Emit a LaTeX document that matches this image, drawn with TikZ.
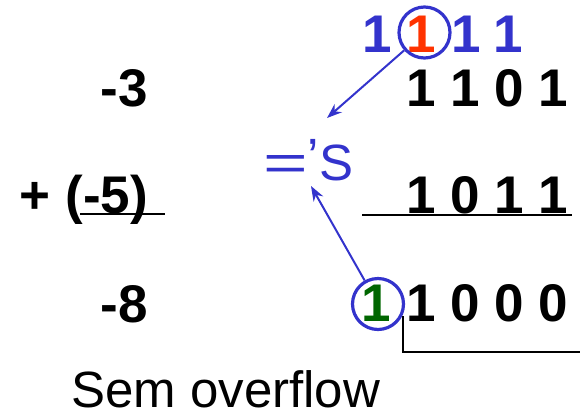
\documentclass[tikz,border=0pt]{standalone}
\usepackage{fontspec}
\setmainfont{Liberation Sans}
\usetikzlibrary{arrows.meta}
\definecolor{cblue}{RGB}{51,51,204}
\definecolor{cred}{RGB}{255,51,0}
\definecolor{cgreen}{RGB}{0,102,0}
\tikzset{
  bignum/.style={inner sep=0pt, outer sep=0pt, font=\fontsize{53}{60}\selectfont\bfseries},
  carry/.style={inner sep=0pt, outer sep=0pt, anchor=base west, font=\fontsize{53}{60}\selectfont\bfseries},
  ring/.style={circle, draw=cblue, line width=3.2pt, minimum size=51pt, inner sep=0pt},
  pointer/.style={draw=cblue, line width=2pt, -{Stealth[length=15pt,width=11pt]}},
  rule/.style={draw=black, line width=2.5pt},
}
\begin{document}
\begin{tikzpicture}[x=1pt,y=-1pt]
\useasboundingbox (0,0) rectangle (580,413);
% left column
\node[bignum, anchor=base east] (m3) at (148,106) {-3};
\node[bignum, anchor=base east] (m5) at (148,213) {+ (-5)};
\node[bignum, anchor=base east] (m8) at (148,322) {-8};
\draw[rule] (80,214) coordinate (u1a) -- (165,214) coordinate (u1b);
% carries
\node[carry, text=cblue] (c1) at (362,52) {1};
\node[carry, text=cred] (c2) at (406,52) {1};
\node[carry, text=cblue] (c3) at (451,52) {1};
\node[carry, text=cblue] (c4) at (493,52) {1};
% binary rows
\node[bignum, anchor=base west] (r1) at (406,106) {1 1 0 1};
\node[bignum, anchor=base west] (r2) at (406,213) {1 0 1 1};
\node[bignum, anchor=base west] (r3) at (406,321) {1 0 0 0};
\draw[rule] (362,215) coordinate (u2a) -- (572,215) coordinate (u2b);
\node[carry, text=cgreen] (g1) at (361,321) {1};
% circles
\node[ring] (o1) at (424.5,32.5) {};
\node[ring] (o2) at (378,304) {};
% bracket
\draw[draw=black, line width=2pt] (403,316) coordinate (b1) -- (403,352) coordinate (b2) -- (580,352) coordinate (b3);
% label
\node[inner sep=0pt, anchor=base west, text=cblue, font=\fontsize{51}{56}\selectfont] (eqs) at (263,180) {\scalebox{1.5}[1]{=}\raisebox{6pt}{’}S};
\coordinate (t1) at (327,118);
\coordinate (t2) at (311,186);
\draw[pointer] (o1) -- (t1);
\draw[pointer] (o2) -- (t2);
\node[inner sep=0pt, anchor=base west, text depth=0pt, font=\fontsize{51}{56}\selectfont] (sem) at (71,407) {Sem overflow};
\end{tikzpicture}
\end{document}
